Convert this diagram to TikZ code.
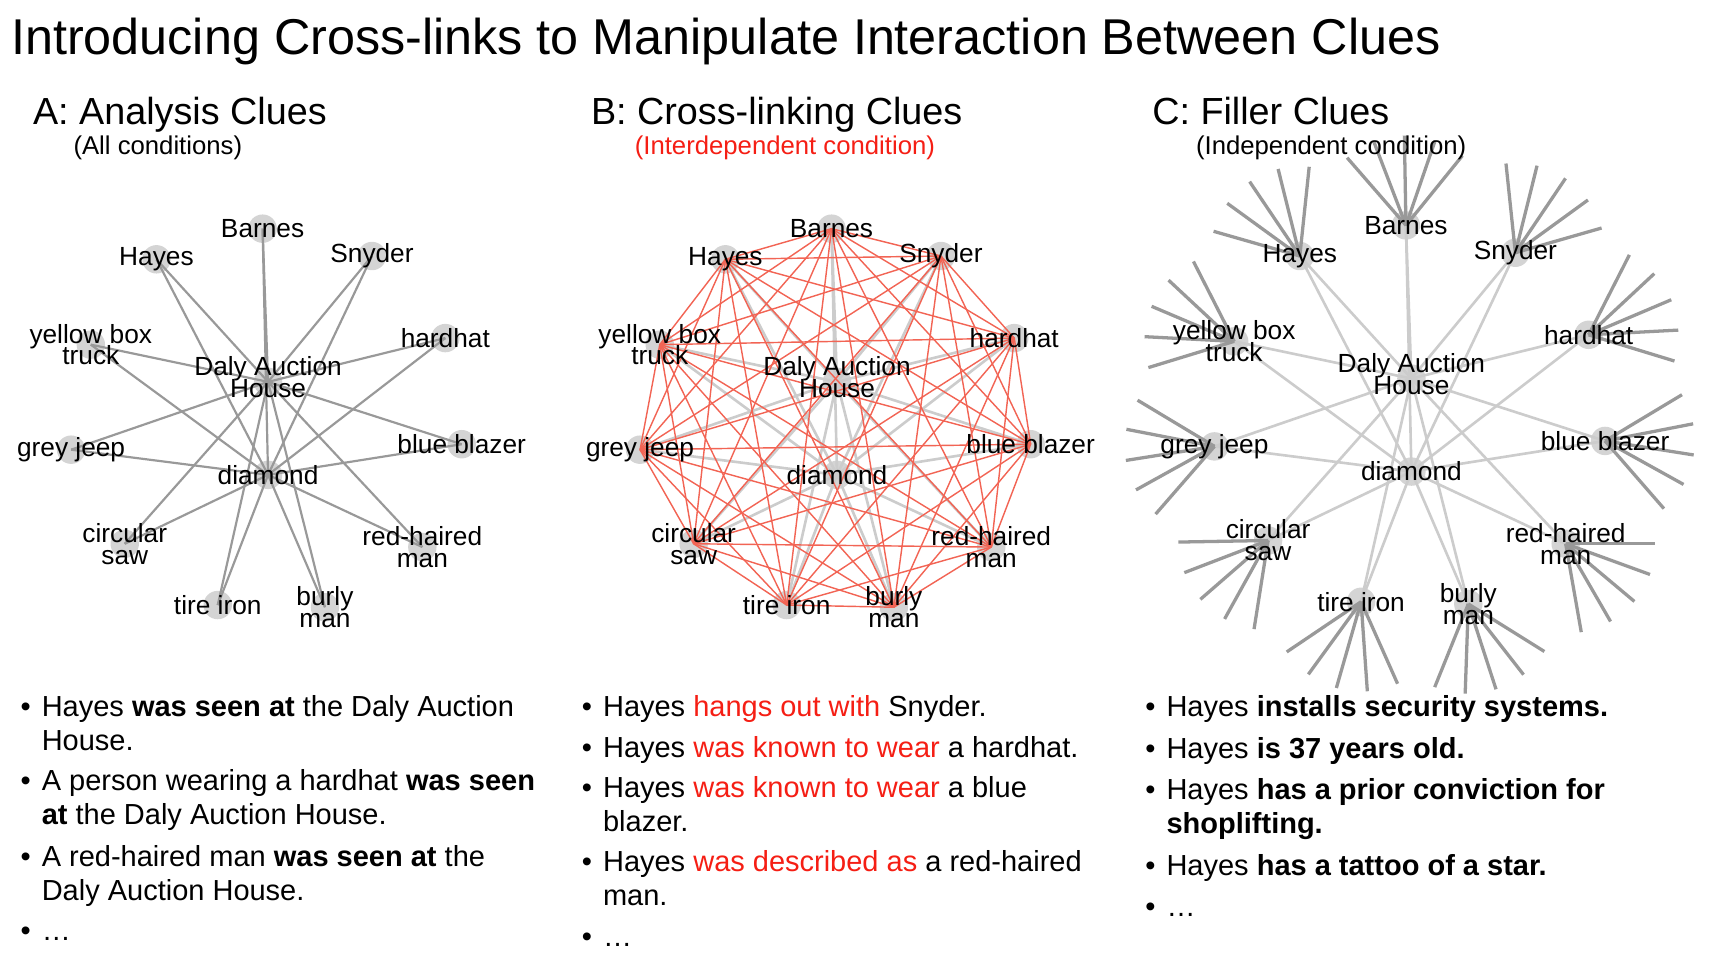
\documentclass[tikz,border=0pt]{standalone}
\usepackage{fontspec}
\setmainfont{Liberation Sans}

\definecolor{vtxgray}{RGB}{212,212,212}
\definecolor{edgedark}{RGB}{153,153,153}
\definecolor{edgelight}{RGB}{204,204,204}
\definecolor{linkred}{RGB}{242,100,84}
\definecolor{cluered}{RGB}{245,30,20}

\newcommand\titlefont{\fontsize{46}{50}\selectfont}
\newcommand\headfont{\fontsize{34.5}{38}\selectfont}
\newcommand\subfont{\fontsize{23.5}{27}\selectfont}
\newcommand\lblfont{\fontsize{24}{20}\selectfont\lineskiplimit=-50pt}
\newcommand\itemfont{\fontsize{26.5}{31}\selectfont}
\newcommand\bul{\strut\llap{\textbullet\hspace{10pt}}}

\newcommand\outerclues{barnes/240/209/Barnes, hayes/143/237/Hayes,
  snyder/340/234/Snyder, ybt/83/315/{yellow box\\truck},
  hardhat/407/309/hardhat, jeep/65/411/grey jeep,
  blazer/422/406/blue blazer, saw/114/497/{circular\\saw},
  redman/386/500/{red-haired\\man}, tire/199/553/tire iron,
  burly/297/555/{burly\\man}}
\newcommand\outernames{barnes,hayes,snyder,ybt,hardhat,jeep,blazer,saw,redman,tire,burly}

\newcommand\placeclues[1]{%
  \foreach \n/\x/\y/\t in \outerclues {\node[vtx] (#1\n) at (\x,\y) {};}
  \node[vtx] (#1daly) at (245,349) {};
  \node[vtx] (#1diamond) at (245,434) {};
}
\newcommand\hubedges[2]{%
  \foreach \n in \outernames {
    \draw[#2] (#1\n.center) -- (#1daly.center);
    \draw[#2] (#1\n.center) -- (#1diamond.center);
  }
}
\newcommand\labelclues[1]{%
  \foreach \n/\x/\y/\t in \outerclues {\node[lbl] at (#1\n) {\t};}
  \node[lbl] at ([yshift=4]#1daly) {Daly Auction\\House};
  \node[lbl] at (#1diamond) {diamond};
}

\begin{document}
\begin{tikzpicture}[x=1pt, y=-1pt,
  vtx/.style={circle, fill=vtxgray, minimum size=26pt, inner sep=0pt},
  lbl/.style={font=\lblfont, align=center, inner sep=0pt},
  hubA/.style={draw=edgedark, line width=2pt},
  hubB/.style={draw=edgelight, line width=2.4pt},
  xlink/.style={draw=linkred, line width=1.3pt},
  spoke/.style={draw=edgedark, line width=3pt},
  panelhead/.style={anchor=base west, inner sep=0pt, font=\headfont},
  subhead/.style={anchor=base west, inner sep=0pt, font=\subfont},
  clueitem/.style={anchor=north west, align=left, inner sep=0pt, font=\itemfont}]
  \useasboundingbox (0,0) rectangle (1562,875);

  \node[anchor=base west, inner sep=0pt, font=\titlefont] (title) at (10,50)
    {Introducing Cross-links to Manipulate Interaction Between Clues};

  % A: analysis clues
  \node[panelhead] (headA) at (30,114) {A: Analysis Clues};
  \node[subhead] (subA) at (67,141) {(All conditions)};
  \placeclues{A}
  \hubedges{A}{hubA}
  \labelclues{A}

  % B: cross-linking clues
  \node[panelhead] (headB) at (540,114) {B: Cross-linking Clues};
  \node[subhead, text=cluered] (subB) at (580,141) {(Interdependent condition)};
  \begin{scope}[shift={(520,0)}]
    \placeclues{B}
  \end{scope}
  \hubedges{B}{hubB}
  \foreach \a [count=\i] in \outernames {
    \foreach \b [count=\j] in \outernames {
      \ifnum\j>\i \draw[xlink] (B\a.center) -- (B\b.center); \fi
    }
  }
  \labelclues{B}

  % C: filler clues
  \begin{scope}[shift={(1045,-3)}]
    \placeclues{C}
  \end{scope}
  \hubedges{C}{hubB}
  \foreach \n/\ang in {barnes/91, hayes/124, snyder/56, ybt/157, hardhat/23,
      jeep/189, blazer/-9, saw/221, redman/-40, tire/254, burly/-72} {
    \foreach \d [count=\k] in {-40,-20,0,20,40} {
      \path (C\n) ++({-(\ang+\d)}:82) coordinate (C\n-\k);
      \draw[spoke] (C\n.center) -- (C\n-\k);
    }
  }
  \labelclues{C}
  \node[panelhead] (headC) at (1053,114) {C: Filler Clues};
  \node[subhead] (subC) at (1093,141) {(Independent condition)};

  % clue sentences
  \node[clueitem] (a1) at (38,633) {\bul Hayes \textbf{was seen at} the Daly Auction\\House.};
  \node[clueitem] (a2) at (38,701) {\bul A person wearing a hardhat \textbf{was seen}\\\textbf{at} the Daly Auction House.};
  \node[clueitem] (a3) at (38,770) {\bul A red-haired man \textbf{was seen at} the\\Daly Auction House.};
  \node[clueitem] (a4) at (38,838) {\bul …};

  \node[clueitem] (b1) at (551,633) {\bul Hayes \textcolor{cluered}{hangs out with} Snyder.};
  \node[clueitem] (b2) at (551,670) {\bul Hayes \textcolor{cluered}{was known to wear} a hardhat.};
  \node[clueitem] (b3) at (551,707) {\bul Hayes \textcolor{cluered}{was known to wear} a blue\\blazer.};
  \node[clueitem] (b4) at (551,775) {\bul Hayes \textcolor{cluered}{was described as} a red-haired\\man.};
  \node[clueitem] (b5) at (551,843) {\bul …};

  \node[clueitem] (c1) at (1066,633) {\bul Hayes \textbf{installs security systems.}};
  \node[clueitem] (c2) at (1066,671) {\bul Hayes \textbf{is 37 years old.}};
  \node[clueitem] (c3) at (1066,709) {\bul Hayes \textbf{has a prior conviction for}\\\textbf{shoplifting.}};
  \node[clueitem] (c4) at (1066,778) {\bul Hayes \textbf{has a tattoo of a star.}};
  \node[clueitem] (c5) at (1066,816) {\bul …};
\end{tikzpicture}
\end{document}
